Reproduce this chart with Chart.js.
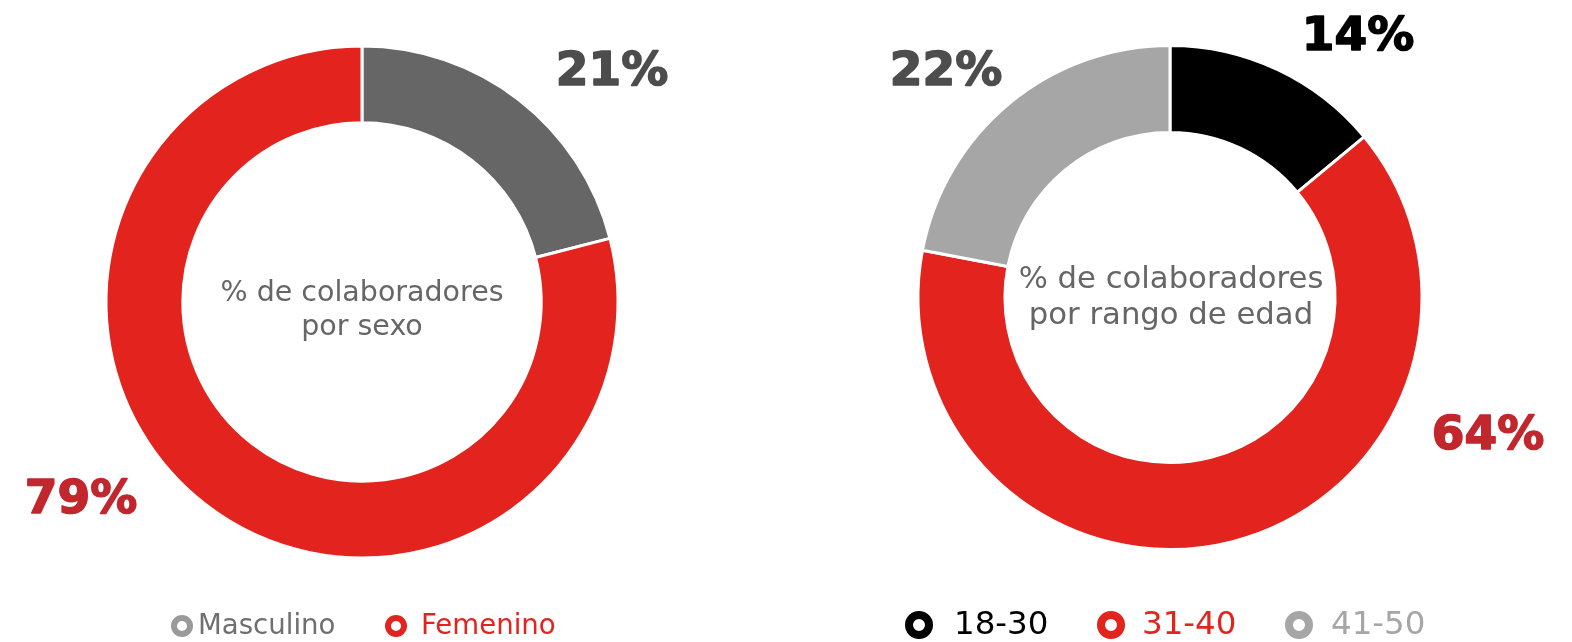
<!DOCTYPE html>
<html>
<head>
<meta charset="utf-8">
<script src="https://cdn.jsdelivr.net/npm/chart.js@4.4.1/dist/chart.umd.min.js"></script>
<style>
  html, body { margin: 0; padding: 0; background: #ffffff; }
  body { width: 1572px; height: 642px; position: relative; overflow: hidden; }
  .box { position: absolute; top: 0; width: 786px; height: 642px; }
  #b1 { left: 0; }
  #b2 { left: 786px; }
</style>
</head>
<body>
<div class="box" id="b1"><canvas id="c1"></canvas></div>
<div class="box" id="b2"><canvas id="c2"></canvas></div>
<script>
// ---- data ----
const sexLabels = ['Masculino', 'Femenino'];
const sexValues = [21, 79];
const sexColors = ['#666666', '#e2231e'];

const ageLabels = ['18-30', '31-40', '41-50'];
const ageValues = [14, 64, 22];
const ageColors = ['#000000', '#e2231e', '#a6a6a6'];

const sexTitle = ['% de colaboradores', 'por sexo'];
const ageTitle = ['% de colaboradores', 'por rango de edad'];

// ---- plugin: percent labels, center text, ring legend ----
const decorPlugin = {
  id: 'decor',
  afterDraw(chart, args, opts) {
    const ctx = chart.ctx;
    const ds = chart.data.datasets[0];
    const meta = chart.getDatasetMeta(0);
    ctx.save();
    // percent labels
    ds.data.forEach((v, i) => {
      const p = opts.valuePos[i];
      ctx.font = opts.valueFont;
      ctx.fillStyle = opts.valueColors[i];
      ctx.strokeStyle = opts.valueColors[i];
      ctx.lineWidth = 1.6;
      ctx.lineJoin = 'round';
      ctx.textAlign = 'center';
      ctx.textBaseline = 'alphabetic';
      ctx.fillText(v + '%', p[0], p[1]);
      ctx.strokeText(v + '%', p[0], p[1]);
    });
    // center text
    const arc = meta.data[0];
    const cx = arc.x;
    ctx.font = opts.centerFont;
    ctx.fillStyle = opts.centerColor;
    ctx.textAlign = 'center';
    ctx.textBaseline = 'alphabetic';
    opts.centerText.forEach((t, i) => {
      ctx.fillText(t, cx + opts.centerDx, opts.centerBaselines[i]);
    });
    // legend
    chart.data.labels.forEach((lab, i) => {
      const mx = opts.legendMarkerX[i], my = opts.legendY;
      ctx.beginPath();
      ctx.arc(mx, my, opts.markerR - opts.markerW / 2, 0, Math.PI * 2);
      ctx.lineWidth = opts.markerW;
      ctx.strokeStyle = opts.markerColors ? opts.markerColors[i] : ds.backgroundColor[i];
      ctx.stroke();
      ctx.font = opts.legendFont;
      ctx.fillStyle = opts.legendTextColors[i];
      ctx.textAlign = 'left';
      ctx.textBaseline = 'middle';
      ctx.fillText(lab, opts.legendTextX[i], my + 1);
    });
    ctx.restore();
  }
};

function makeChart(id, labels, values, colors, cutout, padding, decor) {
  return new Chart(document.getElementById(id), {
    type: 'doughnut',
    data: {
      labels: labels,
      datasets: [{
        data: values,
        backgroundColor: colors,
        borderColor: '#ffffff',
        borderWidth: 3,
        hoverOffset: 0
      }]
    },
    options: {
      responsive: true,
      maintainAspectRatio: false,
      devicePixelRatio: 1,
      animation: false,
      cutout: cutout,
      rotation: 0,
      layout: { padding: padding },
      plugins: {
        legend: { display: false },
        tooltip: { enabled: false },
        decor: decor
      }
    },
    plugins: [decorPlugin]
  });
}

const valueFont = 'bold 47px "DejaVu Sans"';

makeChart('c1', sexLabels, sexValues, sexColors, '70%',
  { left: 104.5, right: 166.5, top: 44.5, bottom: 82.5 },
  {
    valuePos: [[612, 85], [81, 513]],
    valueColors: ['#4d4d4d', '#c1272d'],
    valueFont: valueFont,
    centerText: sexTitle,
    centerFont: '28.5px "DejaVu Sans"',
    centerColor: '#666666',
    centerDx: 0,
    centerBaselines: [301, 335],
    legendMarkerX: [182, 396],
    legendTextX: [198, 421],
    legendY: 626,
    markerR: 11,
    markerW: 6,
    markerColors: ['#9a9a9a', '#e2231e'],
    legendTextColors: ['#6f6f6f', '#e2231e'],
    legendFont: '27.6px "DejaVu Sans"'
  });

makeChart('c2', ageLabels, ageValues, ageColors, '65.5%',
  { left: 130.5, right: 148.5, top: 44, bottom: 91 },
  {
    valuePos: [[1358 - 786, 50], [1488 - 786, 449], [946 - 786, 85]],
    valueColors: ['#000000', '#c1272d', '#4d4d4d'],
    valueFont: valueFont,
    centerText: ageTitle,
    centerFont: '30.7px "DejaVu Sans"',
    centerColor: '#666666',
    centerDx: 1,
    centerBaselines: [288, 324],
    legendMarkerX: [919 - 786, 1111 - 786, 1299 - 786],
    legendTextX: [954 - 786, 1142 - 786, 1331 - 786],
    legendY: 625,
    markerR: 14,
    markerW: 8,
    markerColors: null,
    legendTextColors: ['#000000', '#e2231e', '#a6a6a6'],
    legendFont: '32.5px "DejaVu Sans"'
  });
</script>
</body>
</html>
